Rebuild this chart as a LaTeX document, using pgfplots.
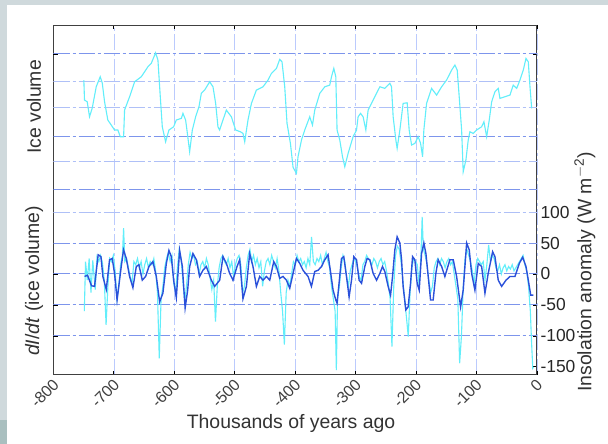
\documentclass[border=0pt]{standalone}
\usepackage{fontspec}
\setmainfont{Liberation Sans}
\usepackage{pgfplots}
\pgfplotsset{compat=1.18}
\definecolor{bgside}{HTML}{CFD9DC}
\definecolor{bgdark}{HTML}{A9BFBF}
\definecolor{icecyan}{HTML}{62EEFA}
\definecolor{insol}{HTML}{2A50DA}
\definecolor{gridA}{HTML}{7D95EC}
\definecolor{gridB}{HTML}{AFC0F7}
\definecolor{gridV}{HTML}{BBCAFD}
\begin{document}
\begin{tikzpicture}
\path[use as bounding box] (0bp,0bp) rectangle (608bp,444bp);
\fill[white] (0bp,0bp) rectangle (608bp,444bp);
\fill[bgside] (0bp,439bp) rectangle (608bp,444bp);
\fill[bgside] (0bp,0bp) rectangle (7bp,444bp);
\fill[bgdark] (0bp,0bp) rectangle (7bp,24bp);
\begin{axis}[
  at={(53.5bp,69bp)}, anchor=south west,
  width=483.5bp, height=349.5bp, scale only axis,
  xmin=-800, xmax=0, ymin=-163, ymax=401,
  xtick={-800,-700,-600,-500,-400,-300,-200,-100,0},
  xticklabels={-800,-700,-600,-500,-400,-300,-200,-100,0},
  ytick={-150,-100,-50,0,50,100,137.1,181,222.6,268,310,355},
  yticklabels={-150,-100,-50,0,50,100,,,,,,},
  ytick pos=right, yticklabel pos=right,
  extra y ticks={355,222.6,137.1,50,0,-50,-100},
  extra y tick labels={},
  extra y tick style={ytick pos=left},
  tick align=inside,
  major tick length=4bp,
  tick style={black, line width=0.9bp},
  axis line style={draw=black!75, line width=1bp},
  xmajorgrids,
  major grid style={gridV, line width=0.8bp, dash pattern=on 16bp off 3bp on 3bp off 3bp},
  xticklabel style={font=\fontsize{16}{18}\selectfont, color=black!75, anchor=east, xshift=5bp, yshift=-4.5bp, rotate=45},
  yticklabel style={font=\fontsize{17.5}{18}\selectfont, color=black!85, anchor=west, xshift=0bp},
  clip=true,
]
% horizontal grid lines
\draw[gridA, line width=1bp, dash pattern=on 16bp off 3bp on 3bp off 3bp]
  (-800,355) -- (0,355) (-800,222.6) -- (0,222.6) (-800,137.1) -- (0,137.1)
  (-800,50) -- (0,50) (-800,0) -- (0,0) (-800,-50) -- (0,-50) (-800,-100) -- (0,-100);
\draw[gridB, line width=1bp, dash pattern=on 16bp off 3bp on 3bp off 3bp]
  (-800,310) -- (0,310) (-800,268) -- (0,268) (-800,181) -- (0,181) (-800,100) -- (0,100);
% ice volume
\addplot[icecyan, line width=1.1bp, mark=none] coordinates {
(-749.8,312.9) (-748.7,280.7) (-744.2,277.9) (-740.4,253.7) (-735.9,267.8) (-729.3,302.1)
(-722.7,318.3) (-719.3,308.1) (-715.5,277.9) (-710.1,248.4) (-704.4,240.3) (-699.0,232.3)
(-693.5,232.3) (-689.5,221.5) (-684.0,221.5) (-682.4,264.5) (-674.1,286.0) (-665.8,310.2)
(-654.7,318.3) (-643.8,334.4) (-638.2,339.9) (-631.1,357.0) (-627.2,345.2) (-623.3,286.0)
(-620.0,237.6) (-614.5,213.4) (-609.0,232.3) (-601.2,237.6) (-596.8,248.4) (-588.5,251.1)
(-585.8,259.2) (-581.4,248.4) (-579.2,232.3) (-574.7,197.3) (-570.3,232.3) (-564.8,253.7)
(-559.3,269.9) (-555.4,291.5) (-549.9,296.8) (-541.6,310.2) (-536.1,302.1) (-531.7,275.3)
(-527.9,237.6) (-525.1,232.3) (-519.6,248.4) (-514.0,264.5) (-505.7,253.7) (-498.6,232.3)
(-490.8,229.5) (-486.5,226.9) (-483.6,213.4) (-478.2,248.4) (-472.5,275.3) (-464.3,296.8)
(-453.3,302.1) (-445.0,312.9) (-439.4,323.7) (-431.1,331.8) (-425.7,346.3) (-421.9,342.4)
(-417.4,302.1) (-413.6,243.1) (-408.0,210.8) (-403.6,172.0) (-398.0,162.4) (-395.4,189.2)
(-389.7,216.1) (-384.3,232.3) (-376.0,253.7) (-371.5,240.3) (-367.7,264.5) (-359.4,291.5)
(-351.1,302.1) (-342.9,304.8) (-340.0,318.3) (-336.2,331.8) (-332.9,318.3) (-330.8,232.3)
(-326.3,216.1) (-321.8,189.2) (-318.0,173.1) (-312.5,194.7) (-304.3,221.5) (-298.6,232.3)
(-296.0,253.7) (-292.0,259.2) (-287.7,253.7) (-283.2,232.3) (-279.4,264.5) (-271.1,280.7)
(-260.0,302.1) (-251.8,299.5) (-243.5,307.6) (-240.7,302.1) (-238.0,253.7) (-233.5,216.1)
(-231.4,202.7) (-226.9,232.3) (-221.5,275.3) (-214.8,276.3) (-211.5,232.3) (-207.5,208.1)
(-202.1,210.8) (-196.6,221.5) (-192.6,210.8) (-189.3,189.2) (-187.2,232.3) (-182.7,275.3)
(-174.4,299.5) (-166.1,288.7) (-157.8,302.1) (-149.6,312.9) (-141.3,329.0) (-135.8,337.1)
(-132.0,329.0) (-128.7,286.0) (-124.7,232.3) (-122.1,165.0) (-117.6,183.9) (-113.8,216.1)
(-111.0,229.5) (-105.5,226.9) (-99.9,232.3) (-91.6,237.6) (-87.8,245.6) (-83.3,221.5)
(-79.0,248.4) (-75.0,277.9) (-69.6,294.0) (-64.1,299.5) (-61.3,283.4) (-53.0,286.0)
(-44.7,288.7) (-39.3,304.8) (-33.6,299.5) (-28.2,312.9) (-22.7,329.0) (-18.2,347.9)
(-14.4,342.4) (-11.6,302.1) (-8.8,267.3)
};
% dI/dt (ice volume)
\addplot[icecyan, line width=1.1bp, mark=none] coordinates {
(-749,-60) (-747,20) (-744,-10) (-741,25) (-738,-30) (-735,22) (-731,-25) (-728,28) (-725,20)
(-722,30) (-719,18) (-716,-10) (-713,-82) (-710,-20) (-707,25) (-704,20) (-701,30) (-698,5)
(-695,-40) (-692,-20) (-689,15) (-686,30) (-684,74) (-682,20) (-679,25) (-676,10) (-673,-5)
(-670,-15) (-667,20) (-664,15) (-661,25) (-658,10) (-655,20) (-652,0) (-649,15) (-646,25)
(-643,10) (-640,20) (-637,15) (-634,25) (-631,5) (-628,-30) (-625,-136) (-622,-40) (-619,-20)
(-616,10) (-613,25) (-610,35) (-607,20) (-604,30) (-601,-15) (-598,-30) (-595,10) (-592,40)
(-589,25) (-586,-10) (-583,-45) (-580,-20) (-577,15) (-574,35) (-571,25) (-568,30) (-565,15)
(-562,20) (-559,0) (-556,15) (-553,20) (-550,10) (-547,25) (-544,15) (-541,-5) (-538,-25)
(-535,-10) (-532,-77) (-529,-20) (-526,10) (-523,25) (-520,30) (-517,20) (-514,15) (-511,25)
(-508,10) (-505,20) (-502,-5) (-499,15) (-496,25) (-493,30) (-490,15) (-487,-30) (-484,-20)
(-481,10) (-478,30) (-475,40) (-472,20) (-469,30) (-466,15) (-463,25) (-460,10) (-457,20)
(-454,-20) (-451,5) (-448,20) (-445,25) (-442,15) (-439,30) (-436,20) (-433,10) (-430,25)
(-427,5) (-424,-30) (-421,-60) (-418,-114) (-415,-30) (-412,-10) (-409,-20) (-406,0) (-403,20)
(-400,15) (-397,30) (-394,20) (-391,25) (-388,15) (-385,20) (-382,10) (-379,25) (-376,15)
(-373,60) (-370,20) (-367,15) (-364,25) (-361,20) (-358,30) (-355,15) (-352,25) (-349,35)
(-346,20) (-343,10) (-340,-20) (-337,-40) (-334,-60) (-332,-155) (-330,-40) (-327,-20)
(-324,10) (-321,30) (-318,20) (-315,-5) (-312,-20) (-309,5) (-306,15) (-303,25) (-300,20)
(-297,10) (-294,-5) (-291,-10) (-288,15) (-285,20) (-282,30) (-279,25) (-276,20) (-273,15)
(-270,25) (-267,20) (-264,10) (-261,20) (-258,25) (-255,15) (-252,20) (-249,5) (-246,-15)
(-243,-40) (-240,-117) (-237,-20) (-234,30) (-231,45) (-228,40) (-225,20) (-222,-10)
(-219,-40) (-216,-70) (-213,-101) (-210,-30) (-207,10) (-204,25) (-201,20) (-198,15)
(-195,-20) (-192,30) (-190,92) (-188,40) (-185,30) (-182,15) (-179,-10) (-176,-30) (-173,-20)
(-170,10) (-167,20) (-164,25) (-161,15) (-158,25) (-155,20) (-152,10) (-149,20) (-146,25)
(-143,15) (-140,20) (-137,0) (-134,-20) (-131,-40) (-128,-144) (-125,-100) (-122,-20)
(-119,25) (-116,40) (-113,30) (-110,20) (-107,5) (-104,-15) (-101,15) (-98,25) (-95,20)
(-92,15) (-89,20) (-86,-10) (-83,15) (-80,47) (-77,20) (-74,30) (-71,25) (-68,10) (-65,5)
(-62,15) (-59,0) (-56,10) (-53,15) (-50,5) (-47,12) (-44,8) (-41,15) (-38,5) (-35,10)
(-32,15) (-29,20) (-26,25) (-23,30) (-20,15) (-17,5) (-14,-20) (-11,-60) (-9,-110)
(-7,-152) (-6,-150)
};
% insolation anomaly
\addplot[insol, line width=1.4bp, mark=none] coordinates {
(-748.6,-4) (-743.7,-2) (-737.1,-19) (-732.1,-20) (-726.1,31) (-721.5,28) (-718.3,-4)
(-712.7,-25) (-707.2,23) (-702.8,25) (-699.0,1) (-694.8,-42) (-687.9,12) (-684.1,39)
(-679.6,25) (-674.1,-4) (-668.6,-22) (-663.0,12) (-658.7,15) (-653.1,-10) (-647.6,-4)
(-642.1,12) (-635.5,20) (-629.9,-4) (-624.4,-45) (-619.0,-31) (-613.3,17) (-609.0,38)
(-605.1,28) (-601.2,-10) (-596.8,-38) (-591.3,38) (-586.8,12) (-582.2,-55) (-578.0,-26)
(-574.7,12) (-569.3,33) (-563.6,23) (-558.2,-4) (-552.7,6) (-547.1,12) (-538.8,-10)
(-533.3,-20) (-525.0,-10) (-519.6,28) (-513.9,17) (-508.5,1) (-503.0,-10) (-496.4,12)
(-491.9,23) (-486.5,-40) (-480.8,-20) (-475.4,33) (-469.9,12) (-464.3,-20) (-458.8,-4)
(-453.3,-10) (-447.7,-4) (-442.2,-10) (-435.6,20) (-431.1,12) (-425.7,-7) (-420.2,-4)
(-414.6,-10) (-409.1,-23) (-403.6,1) (-398.0,25) (-392.5,17) (-387.1,6) (-378.8,-4)
(-373.2,-20) (-367.7,4) (-362.2,6) (-356.6,12) (-351.1,23) (-345.7,31) (-341.7,4)
(-337.4,-26) (-332.9,-42) (-330.8,-47) (-327.5,-15) (-323.5,25) (-319.7,28) (-315.2,-4)
(-310.9,-37) (-306.9,-10) (-303.1,28) (-298.6,23) (-294.3,-10) (-290.3,-15) (-284.9,12)
(-281.1,25) (-276.6,23) (-271.1,1) (-265.5,-10) (-260.0,1) (-255.6,12) (-251.8,4)
(-246.3,-20) (-242.3,-34) (-239.0,-4) (-235.2,39) (-231.4,60) (-226.9,50) (-224.1,23)
(-221.5,-20) (-217.0,-58) (-213.2,-53) (-209.2,-15) (-205.9,28) (-202.1,23) (-198.3,-15)
(-194.9,-26) (-191.0,33) (-187.2,50) (-183.8,33) (-180.0,-4) (-176.1,-42) (-171.8,-42)
(-167.3,1) (-163.5,23) (-157.8,12) (-152.4,-4) (-144.1,23) (-138.6,23) (-133.0,-4)
(-126.4,-53) (-122.1,-26) (-116.4,50) (-112.1,39) (-108.2,1) (-102.7,-26) (-97.2,17)
(-91.6,12) (-86.1,-31) (-80.7,1) (-73.4,36) (-69.6,28) (-64.1,-10) (-58.5,-20) (-51.3,-10)
(-44.7,-4) (-36.4,-4) (-29.3,17) (-23.7,27) (-18.2,12) (-14.4,-10) (-10.4,-34) (-6.1,-34)
};
\end{axis}
\node[rotate=90, font=\fontsize{19.5}{20}\selectfont, text=black!80] at (34bp,337bp) {Ice volume};
\node[rotate=90, font=\fontsize{19.5}{20}\selectfont, text=black!80] at (34bp,163bp) {\textit{dI}/\textit{dt} (ice volume)};
\node[rotate=90, font=\fontsize{19.5}{20}\selectfont, text=black!80] at (585bp,172bp) {Insolation anomaly (W m$^{\mathrm{-2}}$)};
\node[font=\fontsize{19.5}{20}\selectfont, text=black!80] at (291bp,21bp) {Thousands of years ago};
\end{tikzpicture}
\end{document}
